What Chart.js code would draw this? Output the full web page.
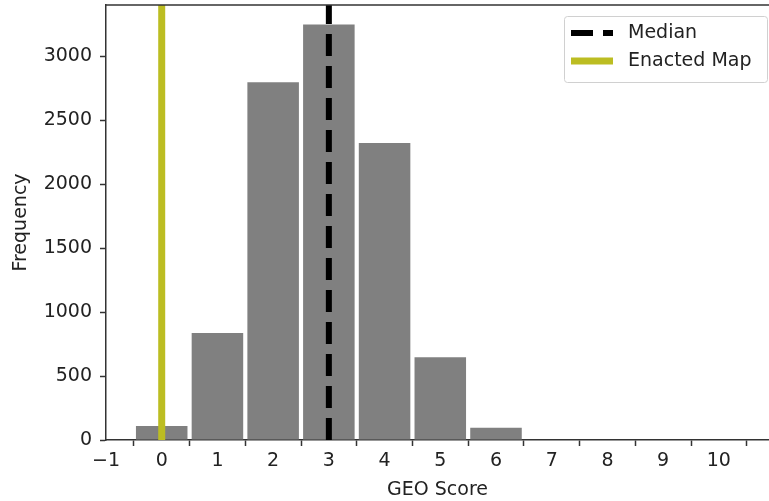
<!DOCTYPE html>
<html>
<head>
<meta charset="utf-8">
<script src="https://cdn.jsdelivr.net/npm/chart.js@4.4.1/dist/chart.umd.min.js"></script>
<style>
  html, body { margin: 0; padding: 0; background: #fff; }
  #wrap { width: 769px; height: 501px; }
</style>
</head>
<body>
<div id="wrap"><canvas id="c" width="769" height="501"></canvas></div>
<script>
// ---- data ----
const scores = [0, 1, 2, 3, 4, 5, 6, 7, 8, 9, 10];
const frequency = [110, 837, 2796, 3247, 2322, 647, 96, 0, 0, 0, 0];
const medianScore = 3;
const enactedScore = 0;
const xTicks = [-1, 0, 1, 2, 3, 4, 5, 6, 7, 8, 9, 10];
const xTickLabels = ['\u22121', '0', '1', '2', '3', '4', '5', '6', '7', '8', '9', '10'];
const yTicks = [0, 500, 1000, 1500, 2000, 2500, 3000];
const seriesLabels = ['Median', 'Enacted Map'];
const xTitle = 'GEO Score';
const yTitle = 'Frequency';
const yMax = 3400;
const xMin = -1, xMax = 10.9;

const FONT = 'DejaVu Sans';
const TXT = '#222';
const AX = '#333';

const topSpine = {
  id: 'topSpine',
  afterDatasetsDraw(chart) {
    const {ctx, chartArea} = chart;
    ctx.save();
    ctx.strokeStyle = AX;
    ctx.lineWidth = 1.5;
    ctx.beginPath();
    ctx.moveTo(chartArea.left, chartArea.top);
    ctx.lineTo(chart.width, chartArea.top);
    ctx.stroke();
    ctx.restore();
  }
};

const boxLegend = {
  id: 'boxLegend',
  afterDraw(chart) {
    const {ctx} = chart;
    const x0 = 564, y0 = 16, w = 203, h = 66;
    ctx.save();
    ctx.fillStyle = 'rgba(255,255,255,0.8)';
    ctx.strokeStyle = '#d0d0d0';
    ctx.lineWidth = 1;
    ctx.beginPath();
    ctx.roundRect(x0 + 0.5, y0 + 0.5, w, h, 3);
    ctx.fill();
    ctx.stroke();
    const rows = [33, 61];
    const lineDs = chart.data.datasets.filter(d => d.type === 'line');
    lineDs.forEach((ds, i) => {
      const y = rows[i];
      ctx.strokeStyle = ds.borderColor;
      ctx.lineWidth = ds.borderWidth;
      ctx.setLineDash(ds.borderDash || []);
      ctx.lineCap = 'butt';
      ctx.beginPath();
      ctx.moveTo(571, y);
      ctx.lineTo(613, y);
      ctx.stroke();
      ctx.setLineDash([]);
      ctx.fillStyle = TXT;
      ctx.font = '19px "' + FONT + '"';
      ctx.textBaseline = 'middle';
      ctx.textAlign = 'left';
      ctx.fillText(ds.label, 628, y);
    });
    ctx.restore();
  }
};

new Chart(document.getElementById('c'), {
  type: 'bar',
  data: {
    datasets: [
      {
        type: 'line',
        label: seriesLabels[0],
        data: [{x: medianScore, y: 0}, {x: medianScore, y: yMax}],
        borderColor: '#000000',
        borderWidth: 6,
        borderDash: [22, 10],
        pointRadius: 0,
        order: 0
      },
      {
        type: 'line',
        label: seriesLabels[1],
        data: [{x: enactedScore, y: 0}, {x: enactedScore, y: yMax}],
        borderColor: '#bcbd22',
        borderWidth: 7,
        pointRadius: 0,
        order: 1
      },
      {
        type: 'bar',
        label: 'GEO',
        data: scores.map((s, i) => ({x: s, y: frequency[i]})),
        backgroundColor: '#808080',
        borderWidth: 0,
        barPercentage: 0.925,
        categoryPercentage: 1,
        order: 2
      }
    ]
  },
  plugins: [topSpine, boxLegend],
  options: {
    responsive: false,
    animation: false,
    devicePixelRatio: 1,
    layout: { padding: { top: 5, right: 0, bottom: 0, left: 0 } },
    plugins: { legend: { display: false }, tooltip: { enabled: false } },
    scales: {
      x: {
        type: 'linear',
        min: xMin,
        max: xMax,
        offset: false,
        afterBuildTicks(scale) { scale.ticks = xTicks.map(v => ({value: v})); },
        afterFit(scale) { scale.height = 61; scale.paddingLeft = 0; scale.paddingRight = 0; },
        ticks: {
          color: TXT,
          font: { family: FONT, size: 19 },
          padding: 4,
          maxRotation: 0,
          autoSkip: false,
          callback(v) { const i = xTicks.indexOf(v); return i >= 0 ? xTickLabels[i] : ''; }
        },
        grid: { drawOnChartArea: false, drawTicks: true, tickLength: 6, tickColor: AX, tickWidth: 1.5 },
        border: { display: true, color: AX, width: 1.5 },
        title: { display: true, text: xTitle, color: TXT, font: { family: FONT, size: 19 }, padding: { top: 0, bottom: 0 } }
      },
      y: {
        type: 'linear',
        min: 0,
        max: yMax,
        afterBuildTicks(scale) { scale.ticks = yTicks.map(v => ({value: v})); },
        afterFit(scale) { scale.width = 106; scale.paddingTop = 0; scale.paddingBottom = 0; },
        ticks: {
          color: TXT,
          font: { family: FONT, size: 19 },
          padding: 8,
          autoSkip: false,
          callback(v) { return String(v); }
        },
        grid: { drawOnChartArea: false, drawTicks: true, tickLength: 6, tickColor: AX, tickWidth: 1.5 },
        border: { display: true, color: AX, width: 1.5 },
        title: { display: true, text: yTitle, color: TXT, font: { family: FONT, size: 19 }, padding: { top: 10, bottom: 0 } }
      }
    }
  }
});
</script>
</body>
</html>
